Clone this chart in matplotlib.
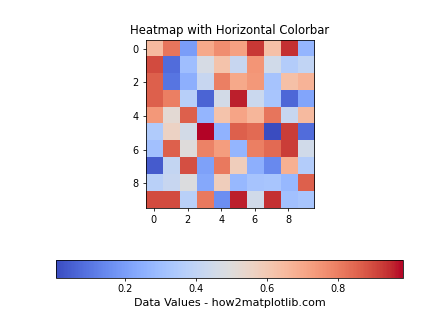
import matplotlib
matplotlib.use("Agg")
import matplotlib.pyplot as plt
import numpy as np

row0 = [0.65, 0.82, 0.20, 0.70, 0.77, 0.72, 0.93, 0.63, 0.94, 0.27]
row1 = [0.90, 0.08, 0.30, 0.47, 0.62, 0.42, 0.75, 0.45, 0.36, 0.40]
row2 = [0.86, 0.10, 0.25, 0.42, 0.80, 0.70, 0.74, 0.32, 0.63, 0.67]
row3 = [0.86, 0.80, 0.37, 0.06, 0.46, 0.96, 0.43, 0.33, 0.07, 0.22]
row4 = [0.74, 0.52, 0.86, 0.27, 0.62, 0.71, 0.66, 0.82, 0.42, 0.65]
row5 = [0.35, 0.56, 0.46, 0.985, 0.26, 0.86, 0.84, 0.005, 0.92, 0.08]
row6 = [0.31, 0.86, 0.50, 0.79, 0.73, 0.27, 0.80, 0.84, 0.92, 0.45]
row7 = [0.04, 0.41, 0.89, 0.21, 0.81, 0.58, 0.25, 0.15, 0.68, 0.36]
row8 = [0.38, 0.42, 0.49, 0.23, 0.58, 0.28, 0.32, 0.33, 0.28, 0.86]
row9 = [0.90, 0.90, 0.38, 0.81, 0.16, 0.96, 0.45, 0.94, 0.31, 0.33]

data = np.array([row0, row1, row2, row3, row4, row5, row6, row7, row8, row9])

fig, ax = plt.subplots(figsize=(6.4, 4.8), dpi=70)
im = ax.imshow(data, cmap='coolwarm')
ax.set_title('Heatmap with Horizontal Colorbar')
cbar = fig.colorbar(im, ax=ax, orientation='horizontal', pad=0.2)
cbar.set_label('Data Values - how2matplotlib.com', fontsize=11.5)
fig.savefig('out.png', dpi=70)
